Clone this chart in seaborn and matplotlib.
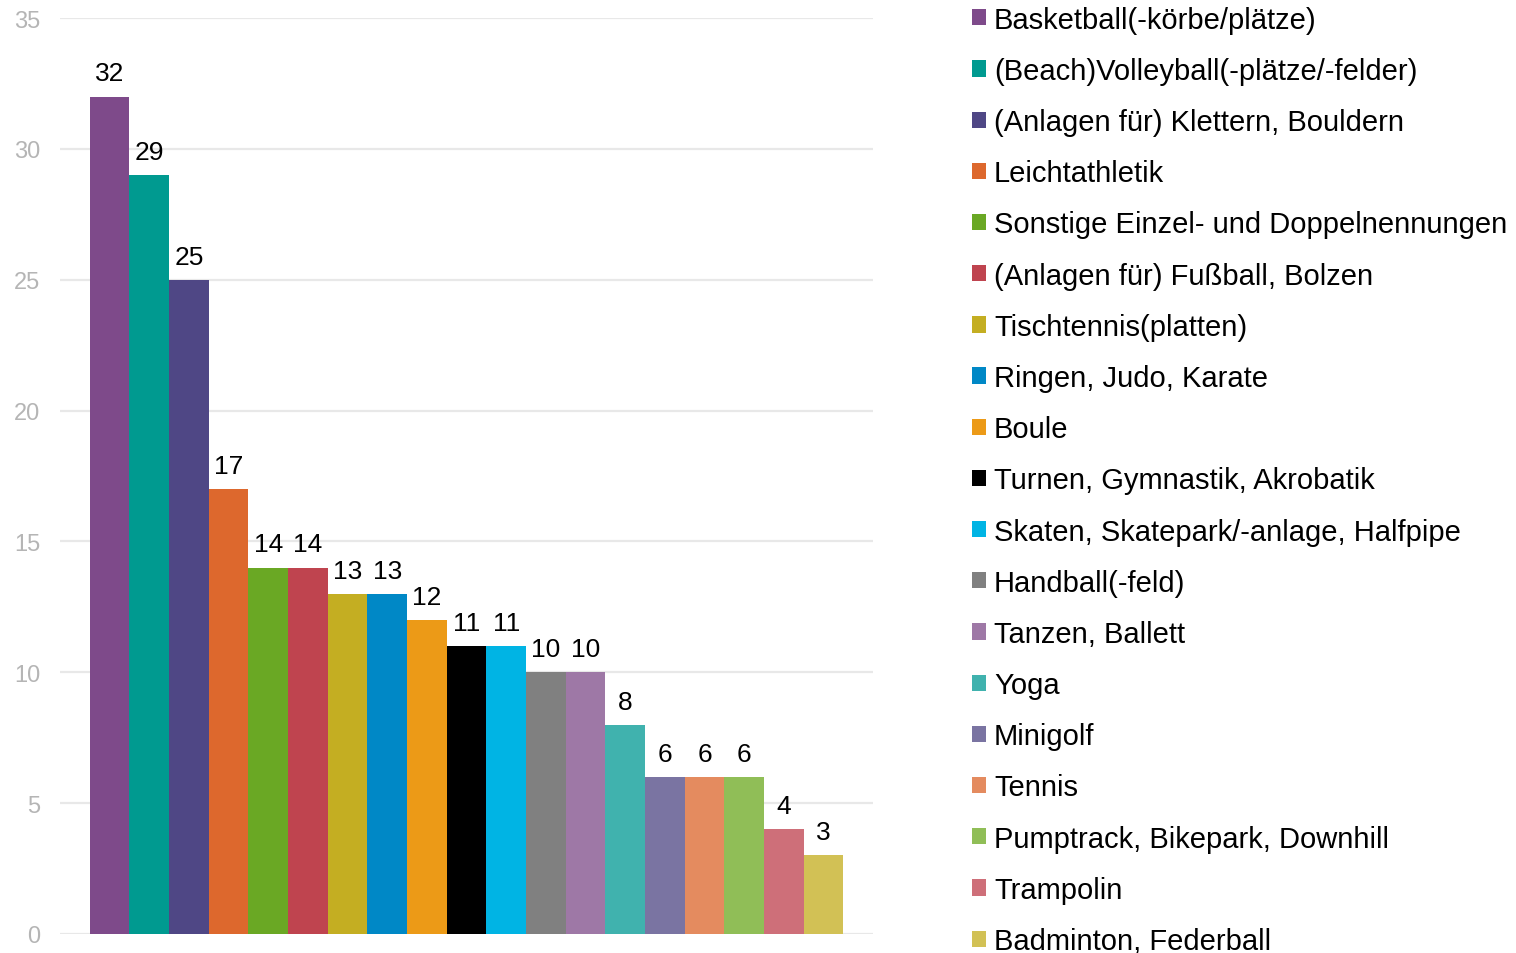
import pandas as pd
import matplotlib
matplotlib.use("Agg")
import matplotlib.pyplot as plt
import seaborn as sns

# ==========================================
# Data
# ==========================================
sportarten = [
    "Basketball(-körbe/plätze)",
    "(Beach)Volleyball(-plätze/-felder)",
    "(Anlagen für) Klettern, Bouldern",
    "Leichtathletik",
    "Sonstige Einzel- und Doppelnennungen",
    "(Anlagen für) Fußball, Bolzen",
    "Tischtennis(platten)",
    "Ringen, Judo, Karate",
    "Boule",
    "Turnen, Gymnastik, Akrobatik",
    "Skaten, Skatepark/-anlage, Halfpipe",
    "Handball(-feld)",
    "Tanzen, Ballett",
    "Yoga",
    "Minigolf",
    "Tennis",
    "Pumptrack, Bikepark, Downhill",
    "Trampolin",
    "Badminton, Federball",
]
nennungen = [32, 29, 25, 17, 14, 14, 13, 13, 12, 11, 11, 10, 10, 8, 6, 6, 6, 4, 3]
farben = [
    "#7E4A8A", "#009A90", "#4F4785", "#DD682D", "#6AA824", "#BF444F",
    "#C4AE22", "#0088C6", "#EC9A17", "#000000", "#00B4E4", "#808080",
    "#9E78A6", "#40B2AE", "#7A74A2", "#E48B5F", "#90BE57", "#CE6F79",
    "#D2C155",
]
y_ticks = [0, 5, 10, 15, 20, 25, 30, 35]

df = pd.DataFrame({"gruppe": ["alle"] * len(sportarten),
                   "Sportart": sportarten,
                   "Anzahl": nennungen})

# ==========================================
# Plot
# ==========================================
sns.set_theme(style="white")
plt.rcParams["font.family"] = ["Liberation Sans", "DejaVu Sans"]

fig = plt.figure(figsize=(15.16, 9.54), dpi=100)
ax = fig.add_axes([60 / 1516, 19 / 954, (873 - 60) / 1516, (935 - 19) / 954])

sns.barplot(data=df, x="gruppe", y="Anzahl", hue="Sportart", hue_order=sportarten,
            palette=farben, saturation=1, width=0.927, dodge=True, ax=ax,
            legend=True, linewidth=0)

for cont in ax.containers:
    ax.bar_label(cont, fmt="%d", padding=8, fontsize=19, color="black")

ax.set_ylim(0, 35)
ax.set_xlim(-0.5, 0.5)
ax.set_yticks(y_ticks)
ax.set_xticks([])
ax.set_xlabel("")
ax.set_ylabel("")
ax.tick_params(axis="y", length=0, pad=14, labelsize=17, labelcolor="#b5b5b5")
ax.yaxis.grid(True, color="#e8e8e8", linewidth=1.6)
ax.set_axisbelow(True)
sns.despine(ax=ax, left=True, bottom=True)

handles, labels = ax.get_legend_handles_labels()
ax.get_legend().remove()
fig.legend(handles, labels, loc="upper left", bbox_to_anchor=(972 / 1516, 0.993),
           frameon=False, fontsize=21, handlelength=0.48, handleheight=0.48,
           handletextpad=0.27, labelspacing=0.795, borderpad=0.0, borderaxespad=0,
           labelcolor="black")

fig.savefig("out.png", dpi=100)
